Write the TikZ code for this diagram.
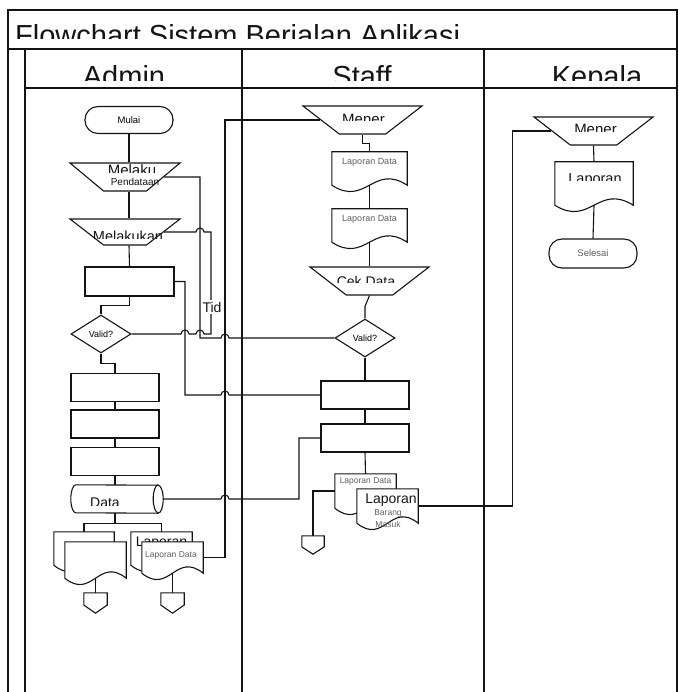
\documentclass[tikz,border=0pt]{standalone}
\usepackage{fontspec}
\setmainfont{Liberation Sans}
\usepackage{xcolor}
\usetikzlibrary{shapes.geometric, calc}
\definecolor{coal}{RGB}{20,20,20}
\definecolor{faint}{RGB}{95,95,95}

% text whose lower part is cut off
\newcommand{\cutlabel}[5]{%
  \begin{scope}
    \clip (0,0) rectangle (678,#3);
    \node[#4] (#1) at (#2) {#5};
  \end{scope}}
% document symbol on an empty node
\newcommand{\docshape}[1]{%
  \draw[ln, fill=white] (#1.south west) -- (#1.north west) -- (#1.north east)
    -- (#1.south east)
    .. controls ($(#1.south east)!0.45!(#1.south west)+(0,-22)$)
    and ($(#1.south west)!0.45!(#1.south east)+(0,22)$) .. (#1.south west)
    -- cycle;}
% lying cylinder (stored data) on an empty node
\newcommand{\cylshape}[1]{%
  \draw[ln, fill=white] ($(#1.north west)+(5,0)$)
    arc[start angle=270, end angle=90, x radius=5, y radius=14]
    -- ($(#1.south east)+(-5,0)$)
    arc[start angle=90, end angle=-90, x radius=5, y radius=14] -- cycle;
  \draw[ln] ($(#1.north east)+(-5,0)$)
    arc[start angle=270, end angle=90, x radius=5, y radius=14];}
% off-page connector on an empty node
\newcommand{\offpage}[1]{%
  \draw[ln, fill=white] (#1.north west) -- (#1.north east)
    -- ($(#1.north east)!0.6!(#1.south east)$) -- (#1.south)
    -- ($(#1.north west)!0.6!(#1.south west)$) -- cycle;}

\begin{document}
\begin{tikzpicture}[x=1pt, y=-1pt,
    ln/.style={line width=1.1pt, draw=coal},
    term/.style={draw, ln, fill=white, rounded corners=13pt,
                 minimum width=88pt, minimum height=27pt, inner sep=0pt,
                 font=\fontsize{9.5}{10}\selectfont},
    manop/.style={draw, ln, fill=white, trapezium, trapezium stretches=true,
                  shape border rotate=180, trapezium left angle=52,
                  trapezium right angle=52, minimum height=28pt, inner sep=1pt},
    proc/.style={draw, ln, fill=white, rectangle,
                 minimum width=88pt, minimum height=28pt, inner sep=0pt},
    dec/.style={draw, ln, fill=white, diamond, minimum width=60pt,
                minimum height=38pt, inner sep=0pt,
                font=\fontsize{9}{10}\selectfont},
    docbox/.style={rectangle, inner sep=0pt},
    offp/.style={rectangle, inner sep=0pt, minimum width=23pt, minimum height=20pt},
    hdr/.style={font=\fontsize{29}{30}\selectfont, anchor=base, inner sep=0pt, text=coal},
    lbl/.style={font=\fontsize{14.5}{16}\selectfont, anchor=base, inner sep=0pt, text=coal},
    sml/.style={font=\fontsize{9}{10}\selectfont, anchor=base, inner sep=0pt, text=faint}
  ]
    \useasboundingbox (0,0) rectangle (678,692);

    %% Frame and lanes ───────────────────────────
    \draw[ln] (8,692) -- (8,10) -- (677,10) -- (677,692);
    \draw[ln] (8,49) -- (677,49);
    \draw[ln] (25,88) -- (677,88);
    \foreach \lx in {25,242,484} \draw[ln] (\lx,49) -- (\lx,692);

    \cutlabel{title}{15,46}{39}{hdr, anchor=base west}{Flowchart Sistem Berjalan Aplikasi}
    \cutlabel{hAdmin}{124,87}{80.5}{hdr}{Admin}
    \cutlabel{hStaff}{362,87}{80.5}{hdr}{Staff}
    \cutlabel{hKepala}{597,87}{80.5}{hdr}{Kepala}

    %% Admin ─────────────────────────────────────
    \node[term] (mulai) at (129,120) {Mulai};
    \node[manop, minimum width=110pt] (melaku) at (125,177) {};
    \node[manop, minimum width=110pt, minimum height=26pt] (melakukan) at (125,232) {};
    \node[proc, minimum width=89pt, minimum height=29pt] (prosA) at (129.5,281.5) {};
    \node[dec] (validA) at (101,334) {Valid?};
    \node[proc] (boxA1) at (115,387.5) {};
    \node[proc] (boxA2) at (115,424) {};
    \node[proc] (boxA3) at (115,461.5) {};
    \node[docbox, minimum width=92pt, minimum height=28pt] (dataA) at (117,499) {};
    \cylshape{dataA}

    \cutlabel{tMelaku}{132,176}{173}{lbl, font=\fontsize{15}{16}\selectfont}{Melaku}
    \node[sml, text=coal, font=\fontsize{10}{11}\selectfont] (tPend) at (135,186) {Pendataan};
    \cutlabel{tMelakukan}{128,242}{239}{lbl}{Melakukan}
    \cutlabel{tData}{105,507}{505}{lbl, font=\fontsize{14}{15}\selectfont}{Data}

    \node[docbox, minimum width=60pt, minimum height=33pt] (bkA1) at (84,548.5) {};
    \node[docbox, minimum width=61pt, minimum height=36pt] (frA1) at (95.5,560) {};
    \node[docbox, minimum width=61pt, minimum height=33pt] (bkA2) at (161.5,548.5) {};
    \node[docbox, minimum width=61pt, minimum height=31pt] (frA2) at (172.5,557.5) {};
    \docshape{bkA1}
    \docshape{frA1}
    \docshape{bkA2}
    \node[lbl, font=\fontsize{14}{15}\selectfont] (tLapA) at (161.5,546) {Laporan};
    \docshape{frA2}
    \node[sml, font=\fontsize{8.5}{9}\selectfont] (tLapDataA) at (171,557) {Laporan Data};

    \node[offp] (offA1) at (95.5,603) {};
    \node[offp] (offA2) at (172.5,603) {};
    \offpage{offA1}
    \offpage{offA2}

    \draw[ln] (mulai.south) -- (mulai.south |- melaku.north);
    \draw[ln] (mulai.south |- melaku.south) -- (mulai.south |- melakukan.north);
    \draw[ln] (mulai.south |- melakukan.south) -- (prosA.north);
    \draw[ln] (prosA.south) -- ++(0,9) -| (validA.north);
    \draw[ln] (validA.south) -- ++(0,10) -| (boxA1.north);
    \draw[ln] (boxA1) -- (boxA2);
    \draw[ln] (boxA2) -- (boxA3);
    \draw[ln] (boxA3.south) -- (boxA3.south |- dataA.north);
    \draw[ln] (boxA3.south |- dataA.south) -- ++(0,10) coordinate (forkA);
    \draw[ln] (bkA1.north) |- (forkA) -| (bkA2.north);
    \draw[ln] (frA1.south) -- (offA1.north);
    \draw[ln] (frA2.south) -- (offA2.north);

    %% Staff ─────────────────────────────────────
    \node[manop, minimum width=119pt] (menerS) at (362.5,120) {};
    \cutlabel{tMenerS}{363.5,125}{121}{lbl, font=\fontsize{15}{16}\selectfont}{Mener}
    \node[docbox, minimum width=75pt, minimum height=33pt] (lapS1) at (369.5,168.5) {};
    \node[docbox, minimum width=75pt, minimum height=33pt] (lapS2) at (369.5,225.5) {};
    \docshape{lapS1}
    \docshape{lapS2}
    \node[sml] (tLapS1) at (369.5,165) {Laporan Data};
    \node[sml] (tLapS2) at (369.5,222) {Laporan Data};
    \node[manop, minimum width=119pt] (cek) at (369.5,281) {};
    \cutlabel{tCek}{366,286}{282}{lbl, font=\fontsize{14}{15}\selectfont}{Cek Data}
    \node[dec] (validS) at (365,338) {Valid?};
    \node[proc] (boxS1) at (365,395) {};
    \node[proc] (boxS2) at (365,438) {};

    \node[docbox, minimum width=61pt, minimum height=34pt] (bkS) at (365.5,491) {};
    \node[docbox, minimum width=61pt, minimum height=34pt] (frS) at (387.5,506) {};
    \docshape{bkS}
    \node[sml, font=\fontsize{8.5}{9}\selectfont] (tLapS3) at (365.5,483) {Laporan Data};
    \docshape{frS}
    \node[lbl, font=\fontsize{14}{15}\selectfont] (tLapS4) at (391,503) {Laporan};
    \node[sml, font=\fontsize{8.5}{9}\selectfont] (tBarang) at (388,515) {Barang};
    \node[sml, font=\fontsize{8.5}{9}\selectfont] (tMasuk) at (388,527) {Masuk};
    \node[offp, minimum width=22pt, minimum height=18pt] (offS) at (313,545) {};
    \offpage{offS}

    \draw[ln] (menerS.south) -- ++(0,9) -| (lapS1.north);
    \draw[ln] (lapS1.south) -- (lapS2.north);
    \draw[ln] (lapS2.south) -- (cek.north);
    \draw[ln] (cek.south) -- ($(validS.north)+(0,-12)$) -- (validS.north);
    \draw[ln] (validS) -- (boxS1);
    \draw[ln] (boxS1) -- (boxS2);
    \draw[ln] (boxS2.south) -- (bkS.north);
    \draw[ln] (bkS.west) -| (offS.north);

    %% Kepala ────────────────────────────────────
    \node[manop, minimum width=119pt] (menerK) at (593.5,131) {};
    \cutlabel{tMenerK}{595.5,135}{132}{lbl, font=\fontsize{15}{16}\selectfont}{Mener}
    \node[docbox, minimum width=78pt, minimum height=43pt] (lapK) at (594,183.5) {};
    \docshape{lapK}
    \cutlabel{tLapK}{595,184}{181}{lbl}{Laporan}
    \node[term, minimum height=29pt, text=faint] (selesai) at (593,253.5) {Selesai};
    \draw[ln] (menerK.south) -- (lapK.north);
    \draw[ln] (lapK.south) -- (selesai.north);

    %% Links between lanes (with line hops) ─────
    \draw[ln] (melaku.east) -- (200,177) -- (200,338) -- (221,338)
          arc[start angle=180, end angle=360, radius=4] -- (validS.west);
    \draw[ln] (validA.east) -- (181,334)
          arc[start angle=180, end angle=360, radius=4] -- (196,334)
          arc[start angle=180, end angle=360, radius=4] -- (211,334)
          -- (211,232) -- (204,232)
          arc[start angle=0, end angle=-180, radius=4] -- (melakukan.east);
    \node[font=\fontsize{14}{15}\selectfont, anchor=base, fill=white,
          inner sep=1.5pt, text=coal] (tTid) at (212,312) {Tid};
    \draw[ln] (prosA.east) -- (185,281.5) -- (185,395) -- (221,395)
          arc[start angle=180, end angle=360, radius=4] -- (boxS1.west);
    \draw[ln] (dataA.east) -- (221,499)
          arc[start angle=180, end angle=360, radius=4] -- (299,499)
          -- (299,438) -- (boxS2.west);
    \draw[ln] (frA2.east) -- (225,557.5) -- (225,120) -- (menerS.west);
    \draw[ln] (frS.east) -- ++(94,0) |- (menerK.west);

  \end{tikzpicture}
\end{document}
